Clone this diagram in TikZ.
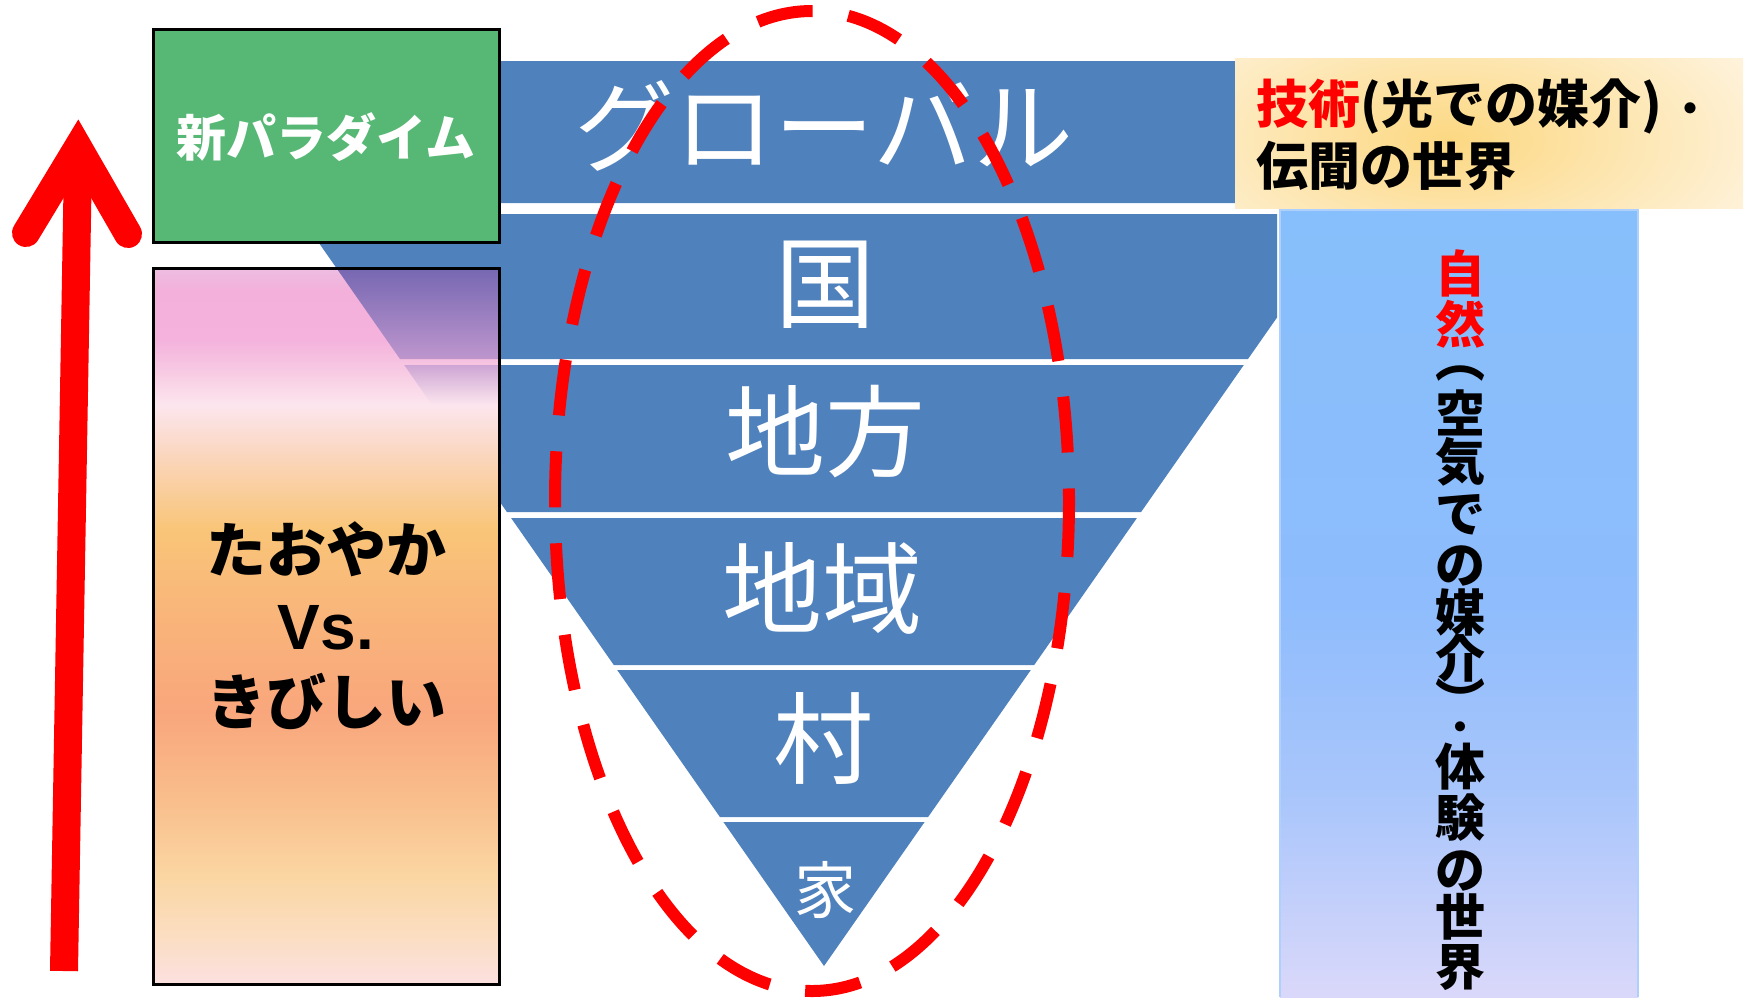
\documentclass[tikz,border=0pt]{standalone}
\usepackage{fontspec}
\usepackage{graphicx}
\newfontfamily\jp{Noto Sans CJK JP}
\newfontfamily\lat{Liberation Sans}
\definecolor{fblue}{RGB}{79,129,189}
\definecolor{gbox}{RGB}{87,184,117}
\definecolor{myred}{RGB}{255,0,0}
% pink box gradient stops
\definecolor{p0}{RGB}{238,190,225}
\definecolor{p1}{RGB}{242,176,218}
\definecolor{p2}{RGB}{244,178,220}
\definecolor{p3}{RGB}{248,205,228}
\definecolor{p4}{RGB}{252,230,238}
\definecolor{p5}{RGB}{250,214,190}
\definecolor{p6}{RGB}{249,197,120}
\definecolor{p7}{RGB}{249,180,122}
\definecolor{p8}{RGB}{249,166,124}
\definecolor{p9}{RGB}{249,190,140}
\definecolor{p10}{RGB}{250,214,162}
\definecolor{p11}{RGB}{251,222,196}
\definecolor{p12}{RGB}{252,224,224}
% overlay (funnel seen through box)
\definecolor{ov1}{RGB}{118,103,178}
\definecolor{ov2}{RGB}{190,150,205}
\definecolor{ov3}{RGB}{205,165,212}
% tan box
\definecolor{tanin}{RGB}{252,216,130}
\definecolor{tanout}{RGB}{254,242,218}
% light blue box
\definecolor{lb0}{RGB}{134,191,251}
\definecolor{lb1}{RGB}{142,188,252}
\definecolor{lb2}{RGB}{170,198,251}
\definecolor{lb3}{RGB}{218,216,250}
\definecolor{lbedge}{RGB}{175,208,252}
\tikzset{
  funlabel/.style={font=\jp\fontsize{100}{100}\selectfont, text=white, inner sep=0pt},
  blk/.style={font=\jp\bfseries\fontsize{52}{52}\selectfont, text=black, inner sep=0pt},
  vblk/.style={font=\jp\bfseries\fontsize{50}{50}\selectfont, text=black, inner sep=0pt},
  pinktext/.style={font=\jp\bfseries\fontsize{60}{60}\selectfont, text=black, inner sep=0pt},
  greentext/.style={font=\jp\bfseries\fontsize{50}{50}\selectfont, text=white, inner sep=0pt},
  band/.style={fill=fblue},
  boxborder/.style={draw=black, line width=3pt},
}
\begin{document}
\begin{tikzpicture}[x=1pt,y=-1pt]
\useasboundingbox (0,0) rectangle (1750,997);
\fill[white] (0,0) rectangle (1750,997);

% ---------------- funnel bands
\fill[band] (191.9,61) -- (1240,61) -- (1240,203) -- (291.0,203) -- cycle;
\fill[band] (298.7,214) -- (1277,214) -- (1277,317.5) -- (1248.0,359) -- (400.0,359) -- cycle;
\fill[band] (404.2,365) -- (1243.8,365) -- (1141.1,512) -- (506.9,512) -- cycle;
\fill[band] (511.1,518) -- (1136.9,518) -- (1034.2,665) -- (613.8,665) -- cycle;
\fill[band] (617.2,670) -- (1030.8,670) -- (928.1,817) -- (719.9,817) -- cycle;
\fill[band] (723.4,822) -- (924.6,822) -- (824,966) -- cycle;

% ---------------- green box
\node[boxborder, fill=gbox, minimum width=346pt, minimum height=213pt, inner sep=0pt] (green) at (326,135.5) {};
\node[greentext] (greenlabel) at (326,137) {新パラダイム};

% ---------------- pink box gradient
\foreach \ya/\yb/\ca/\cb in {268/290/p0/p1, 290/340/p1/p2, 340/375/p2/p3, 375/405/p3/p4, 405/455/p4/p5, 455/529/p5/p6, 529/620/p6/p7, 620/712/p7/p8, 712/800/p8/p9, 800/876/p9/p10, 876/940/p10/p11, 940/984/p11/p12}
  \shade[top color=\ca, bottom color=\cb] (153,\ya-0.6) rectangle (499,\yb+0.6);
% funnel seen through the upper part of the box
\shade[top color=ov1, bottom color=ov2] (336.4,268) -- (499,268) -- (499,359) -- (400,359) -- cycle;
\shade[top color=ov3, bottom color=p4] (404.2,365) -- (499,365) -- (499,405) -- (432.1,405) -- cycle;
\node[boxborder, minimum width=346pt, minimum height=716pt, inner sep=0pt] (pink) at (326,626) {};
\node[pinktext] (tao) at (326,549) {たおやか};
\node[font=\lat\bfseries\fontsize{64}{64}\selectfont, inner sep=0pt] (vs) at (326,628) {Vs.};
\node[pinktext] (kibi) at (326,701) {きびしい};

% ---------------- tan box
\begin{scope}
  \clip (1235,58) rectangle (1743,208);
  \shade[inner color=tanin, outer color=tanout] (1120,-20) rectangle (1780,300);
\end{scope}
\node[blk, anchor=west] (tech1) at (1256,106) {\textcolor{myred}{技術}(光での媒介)\,{\fontsize{40}{40}\selectfont ・}};
\node[blk, anchor=west] (tech2) at (1256,166) {伝聞の世界};

% ---------------- light blue box
\shade[top color=lb0, bottom color=lb1] (1280,210) rectangle (1638,600.5);
\shade[top color=lb1, bottom color=lb2] (1280,600) rectangle (1638,800.5);
\shade[top color=lb2, bottom color=lb3] (1280,800) rectangle (1638,997);
\draw[lbedge, line width=1.5pt] (1280,997) -- (1280,210) -- (1638,210) -- (1638,997);

\node[vblk, text=myred] (vshi) at (1460,273) {自};
\node[vblk, text=myred] (vzen) at (1460,324) {然};
\node[vblk] (vpo) at (1460,374) {︵};
\foreach \c/\y [count=\i] in {空/413, 気/462, で/515, の/566, 媒/612, 介/658}
  \node[vblk] (va\i) at (1460,\y) {\c};
\node[vblk] (vpc) at (1460,700) {︶};
\node[vblk, font=\jp\bfseries\fontsize{36}{36}\selectfont] (vdot) at (1460,731) {・};
\foreach \c/\y [count=\i] in {体/767, 験/818, の/871, 世/917, 界/968}
  \node[vblk] (vb\i) at (1460,\y) {\c};

% ---------------- funnel labels
\node[funlabel] (global) at (824,126) {グローバル};
\node[funlabel] (kuni) at (825,285) {国};
\node[funlabel] (chiho) at (825,432) {地方};
\node[funlabel] (chiiki) at (822,588) {地域};
\node[funlabel] (mura) at (823,738) {村};
\node[funlabel, font=\jp\fontsize{62}{62}\selectfont] (ie) at (825,890) {家};

% ---------------- dashed ellipse
\draw[myred, line width=12pt, dash pattern=on 56pt off 36pt] (812,501) ellipse [x radius=257, y radius=490];

% ---------------- red arrow
\coordinate (shaftlow) at (64,971);
\coordinate (shafttop) at (78,160);
\coordinate (tip) at (78,147);
\coordinate (armL) at (26,233);
\coordinate (armR) at (128,234);
\draw[myred, line width=28pt, line cap=butt] (shaftlow) -- (shafttop);
\draw[myred, line width=28pt, line cap=round, line join=miter] (armL) -- (tip) -- (armR);
\end{tikzpicture}
\end{document}
